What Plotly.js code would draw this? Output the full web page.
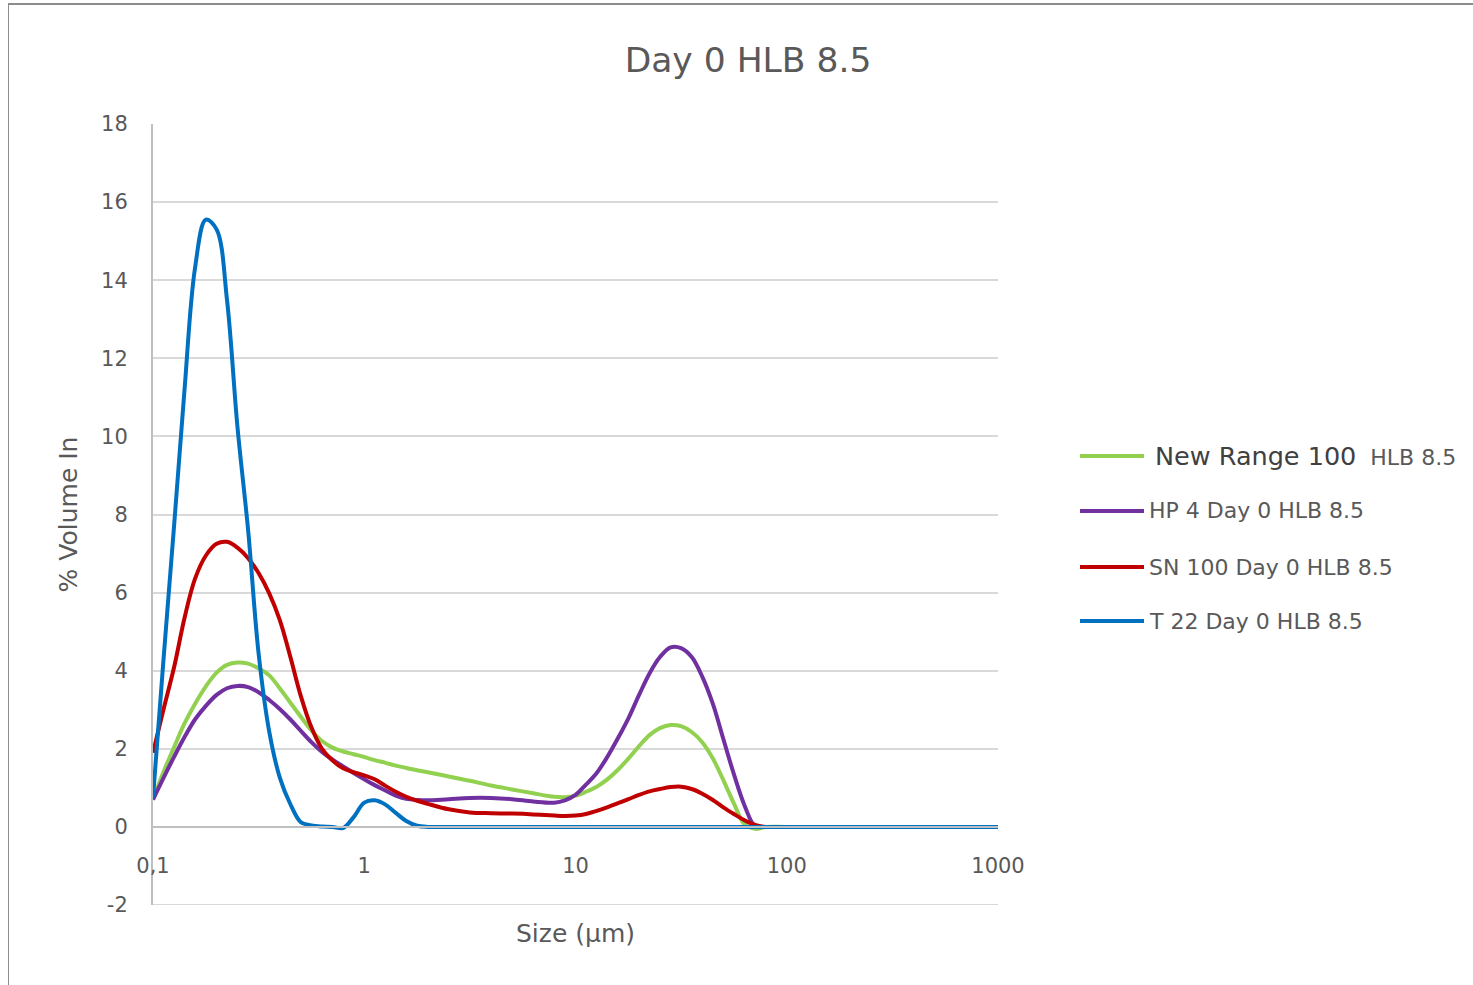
<!DOCTYPE html>
<html>
<head>
<meta charset="utf-8">
<script src="https://cdn.plot.ly/plotly-3.0.1.min.js"></script>
<style>
  html, body { margin: 0; padding: 0; background: #fff; }
  #wrap { position: relative; width: 1473px; height: 985px; overflow: hidden; }
  #chart { position: absolute; left: 0; top: 0; width: 1473px; height: 985px; }
  #frame { position: absolute; left: 8px; top: 3px; right: -5px; bottom: -5px;
           border-left: 1px solid #8c8c8c; border-top: 2px solid #8c8c8c; pointer-events: none; }
</style>
</head>
<body>
<div id="wrap"><div id="chart"></div><div id="frame"></div></div>
<script>
// Particle size (µm)
const sizes = [0.1, 0.112, 0.126, 0.141, 0.158, 0.178, 0.2, 0.224, 0.251, 0.282,
  0.316, 0.355, 0.398, 0.447, 0.501, 0.562, 0.631, 0.708, 0.794, 0.891,
  1.0, 1.12, 1.26, 1.41, 1.58, 1.78, 2.0, 2.51, 3.16, 3.98,
  5.01, 6.31, 7.94, 8.91, 10, 11.2, 12.6, 14.1, 15.8, 17.8,
  20, 22.4, 25.1, 28.2, 31.6, 35.5, 39.8, 44.7, 50.1, 56.2,
  63.1, 70.8, 79.4, 100, 316, 1000];

const newRange = [0.7, 1.4, 2.05, 2.65, 3.15, 3.6, 3.95, 4.15, 4.21, 4.18,
  4.06, 3.88, 3.55, 3.18, 2.82, 2.47, 2.2, 2.03, 1.93, 1.86,
  1.79, 1.71, 1.64, 1.57, 1.51, 1.45, 1.4, 1.29, 1.18, 1.06,
  0.96, 0.86, 0.77, 0.76, 0.8, 0.9, 1.03, 1.21, 1.45, 1.75,
  2.07, 2.35, 2.53, 2.61, 2.58, 2.43, 2.17, 1.75, 1.2, 0.6,
  0.07, -0.05, 0, 0, 0, 0];

const hp4 = [0.7, 1.25, 1.8, 2.3, 2.75, 3.1, 3.38, 3.55, 3.61, 3.58,
  3.45, 3.25, 3.02, 2.75, 2.46, 2.17, 1.92, 1.72, 1.55, 1.38,
  1.22, 1.07, 0.93, 0.8, 0.72, 0.69, 0.68, 0.71, 0.74, 0.74,
  0.71, 0.65, 0.62, 0.68, 0.82, 1.08, 1.38, 1.78, 2.25, 2.78,
  3.38, 3.93, 4.35, 4.6, 4.58, 4.35, 3.85, 3.15, 2.25, 1.35,
  0.55, 0.02, 0, 0, 0, 0];

const sn100 = [1.9, 3.0, 4.1, 5.35, 6.35, 6.95, 7.25, 7.3, 7.15, 6.88,
  6.5, 5.98, 5.3, 4.35, 3.35, 2.55, 2.0, 1.7, 1.5, 1.4,
  1.32, 1.22, 1.05, 0.9, 0.77, 0.67, 0.59, 0.45, 0.37, 0.35,
  0.34, 0.32, 0.29, 0.28, 0.29, 0.33, 0.41, 0.5, 0.6, 0.71,
  0.82, 0.91, 0.97, 1.02, 1.03, 0.97, 0.85, 0.69, 0.5, 0.33,
  0.17, 0.05, 0, 0, 0, 0];

const t22 = [0.75, 4.25, 7.75, 11.2, 14.3, 15.55, 15.3, 13.5, 10.25, 7.6,
  4.45, 2.44, 1.27, 0.58, 0.12, 0.04, 0.01, 0, -0.03, 0.25,
  0.62, 0.68, 0.57, 0.36, 0.15, 0.03, 0, 0, 0, 0,
  0, 0, 0, 0, 0, 0, 0, 0, 0, 0,
  0, 0, 0, 0, 0, 0, 0, 0, 0, 0,
  0, 0, 0, 0, 0, 0];

const seriesNames = ['New Range 100 HLB 8.5', 'HP 4 Day 0 HLB 8.5', 'SN 100 Day 0 HLB 8.5', 'T 22 Day 0 HLB 8.5'];
const seriesColors = ['#92d050', '#7030a0', '#c00000', '#0070c0'];
const seriesValues = [newRange, hp4, sn100, t22];

const xTickVals = [0.1, 1, 10, 100, 1000];
const xTickText = ['0,1', '1', '10', '100', '1000'];
const yTickVals = [-2, 0, 2, 4, 6, 8, 10, 12, 14, 16, 18];
const yTickText = ['-2', '0', '2', '4', '6', '8', '10', '12', '14', '16', '18'];
const yMin = -2, yMax = 18;

const FONT = 'DejaVu Sans, Verdana, sans-serif';
const GRAY = '#595959';

const traces = seriesValues.map((vals, i) => ({
  x: sizes, y: vals, type: 'scatter', mode: 'lines', name: seriesNames[i],
  line: { color: seriesColors[i], width: 4, shape: 'spline', smoothing: 1 },
  showlegend: false, hoverinfo: 'x+y+name'
}));

// custom legend (long line samples like the original)
const L = 153, W = 845, B = 905, H = 781;
const px = v => (v - L) / W;
const py = v => (B - v) / H;
const legendY = [456, 511, 567, 621];
const shapes = [
  // bottom gridline at y = -2 (Plotly drops the edge gridline)
  { type: 'line', xref: 'paper', yref: 'y', x0: 0, x1: 1, y0: yMin, y1: yMin,
    layer: 'below', line: { color: '#d9d9d9', width: 2 } }
];
const annotations = [];
seriesNames.forEach((n, i) => {
  shapes.push({ type: 'line', xref: 'paper', yref: 'paper',
    x0: px(1080), x1: px(1144), y0: py(legendY[i]), y1: py(legendY[i]),
    line: { color: seriesColors[i], width: 4 } });
  let txt = n;
  let x = 1147;
  if (i === 0) {
    txt = '<span style="font-size:25.5px;fill:#404040">New Range 100</span>  HLB 8.5';
    x = 1153;
  }
  annotations.push({ xref: 'paper', yref: 'paper', x: px(x), y: py(legendY[i]),
    xanchor: 'left', yanchor: 'middle', showarrow: false, text: txt,
    font: { family: FONT, size: 22, color: GRAY } });
});

const layout = {
  width: 1473, height: 985,
  margin: { l: 153, r: 475, t: 124, b: 80 },
  paper_bgcolor: '#ffffff', plot_bgcolor: '#ffffff',
  font: { family: FONT, color: GRAY },
  title: { text: 'Day 0 HLB 8.5', font: { family: FONT, size: 34.5, color: GRAY },
    xref: 'container', yref: 'container', x: 748 / 1473, y: 1 - 60 / 985,
    xanchor: 'center', yanchor: 'middle' },
  xaxis: {
    type: 'log', range: [-1, 3], tickvals: xTickVals, ticktext: xTickText,
    showgrid: false, zeroline: false, showline: true, linecolor: '#bfbfbf', linewidth: 2,
    anchor: 'free', position: 0.1, ticks: '', ticklabelstandoff: 20,
    tickfont: { family: FONT, size: 21, color: GRAY },
    title: { text: 'Size (µm)', font: { family: FONT, size: 25, color: GRAY }, standoff: 46 }
  },
  yaxis: {
    range: [yMin, yMax], tickvals: yTickVals, ticktext: yTickText,
    showgrid: true, gridcolor: '#d9d9d9', gridwidth: 2,
    zeroline: false, showline: true, linecolor: '#bfbfbf', linewidth: 2, ticks: '',
    ticklabelstandoff: 19,
    tickfont: { family: FONT, size: 21, color: GRAY },
    title: { text: '% Volume In', font: { family: FONT, size: 25, color: GRAY }, standoff: 16 }
  },
  shapes: shapes,
  annotations: annotations
};

Plotly.newPlot('chart', traces, layout, { displayModeBar: false });
</script>
</body>
</html>
